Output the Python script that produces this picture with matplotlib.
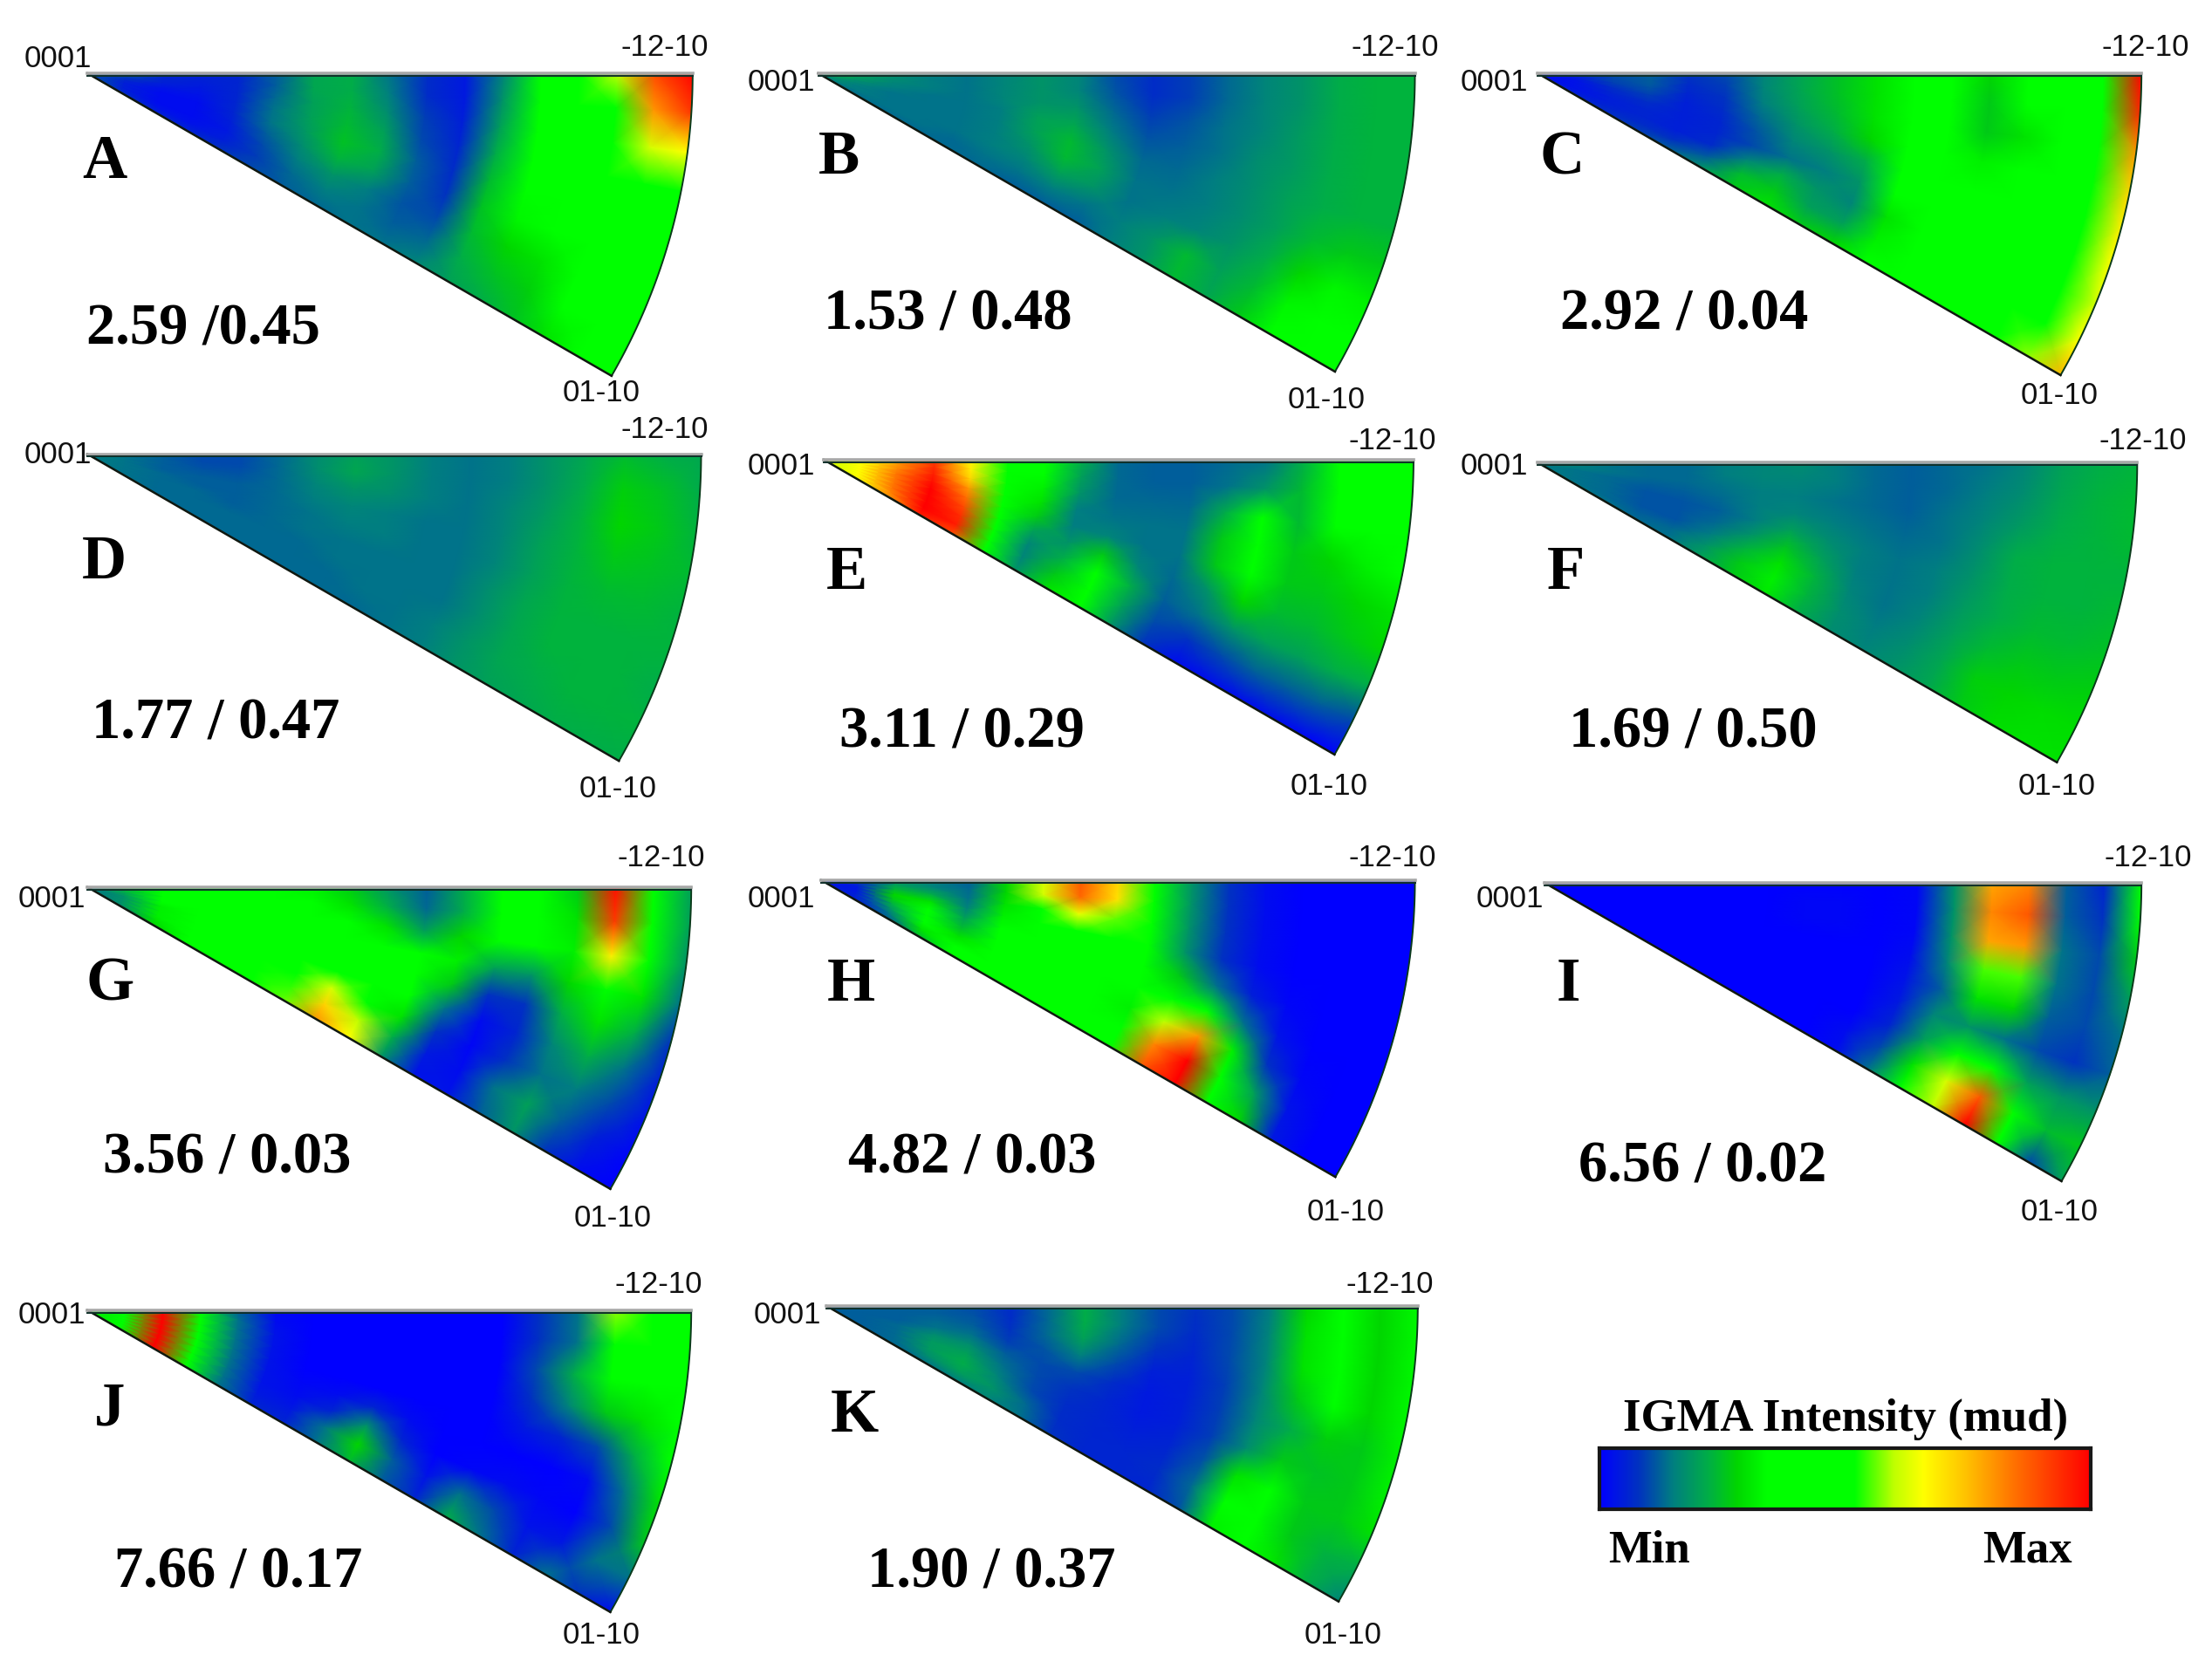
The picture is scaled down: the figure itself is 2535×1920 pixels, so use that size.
import numpy as np
import matplotlib
matplotlib.use('Agg')
import matplotlib.pyplot as plt
from matplotlib.colors import LinearSegmentedColormap

# Intensity read by eye, 0 = min, 100 = max
# rows go from 0 deg (top edge) to 30 deg (lower edge), columns from the 0001 pole out to the arc
RADII = np.linspace(0, 1, 17)
ANGLES_DEG = np.linspace(0, 30, 9)

panel_a = [
    [12, 10, 6, 5, 6, 12, 21, 22, 14, 7, 4, 16, 50, 42, 60, 90, 100],
    [12, 10, 6, 5, 6, 12, 21, 22, 15, 7, 4, 18, 48, 40, 50, 80, 92],
    [12, 8, 5, 4, 6, 13, 20, 23, 17, 9, 5, 20, 34, 40, 48, 62, 66],
    [12, 6, 3, 3, 6, 14, 20, 24, 20, 10, 6, 22, 34, 40, 44, 46, 50],
    [12, 5, 2, 2, 6, 14, 19, 25, 22, 12, 7, 24, 36, 40, 42, 42, 44],
    [12, 5, 2, 2, 5, 12, 17, 23, 20, 12, 8, 25, 33, 38, 44, 44, 44],
    [12, 5, 2, 2, 4, 10, 15, 18, 15, 11, 10, 24, 28, 30, 48, 50, 42],
    [12, 6, 3, 3, 5, 9, 13, 15, 14, 12, 13, 22, 25, 27, 36, 50, 42],
    [10, 8, 6, 6, 8, 10, 12, 13, 14, 14, 16, 20, 22, 25, 30, 38, 38],
]
panel_b = [
    [26, 20, 17, 15, 14, 16, 18, 16, 10, 7, 9, 13, 16, 18, 22, 23, 23],
    [26, 20, 17, 15, 14, 16, 18, 16, 11, 7, 9, 13, 16, 18, 22, 23, 23],
    [24, 19, 16, 15, 14, 16, 18, 18, 13, 9, 11, 14, 16, 19, 22, 23, 23],
    [22, 17, 15, 14, 14, 15, 20, 21, 15, 11, 12, 14, 17, 19, 22, 23, 23],
    [20, 16, 14, 14, 14, 15, 20, 24, 18, 13, 13, 15, 17, 20, 22, 23, 23],
    [19, 15, 14, 14, 14, 15, 18, 24, 20, 14, 14, 15, 17, 20, 24, 26, 26],
    [18, 15, 14, 14, 14, 15, 16, 20, 18, 14, 15, 16, 18, 22, 28, 33, 32],
    [16, 14, 14, 14, 13, 14, 14, 15, 14, 15, 18, 24, 20, 24, 33, 38, 36],
    [15, 14, 13, 13, 13, 13, 12, 12, 12, 15, 18, 24, 21, 26, 36, 40, 40],
]
panel_c = [
    [2, 5, 10, 12, 8, 10, 16, 21, 25, 30, 42, 40, 28, 38, 42, 46, 100],
    [2, 5, 10, 12, 7, 9, 16, 21, 25, 30, 42, 38, 26, 34, 42, 48, 95],
    [2, 4, 9, 11, 6, 8, 15, 20, 24, 30, 40, 38, 26, 30, 42, 50, 80],
    [2, 3, 7, 9, 5, 7, 13, 18, 22, 28, 40, 40, 32, 34, 42, 48, 72],
    [2, 3, 6, 7, 5, 6, 11, 16, 18, 22, 38, 42, 40, 38, 42, 46, 68],
    [2, 3, 5, 6, 5, 6, 10, 14, 15, 18, 34, 42, 42, 42, 42, 46, 66],
    [2, 3, 5, 6, 5, 7, 16, 22, 18, 16, 30, 42, 42, 42, 42, 48, 62],
    [3, 4, 6, 7, 8, 12, 24, 26, 20, 20, 32, 42, 42, 42, 42, 46, 66],
    [5, 6, 7, 9, 12, 18, 26, 30, 26, 28, 36, 40, 42, 42, 44, 58, 76],
]
panel_d = [
    [17, 14, 12, 10, 10, 13, 17, 20, 18, 15, 14, 15, 18, 21, 24, 22, 21],
    [17, 14, 12, 10, 10, 13, 17, 21, 18, 15, 14, 15, 18, 22, 27, 25, 22],
    [16, 14, 12, 11, 11, 13, 16, 18, 17, 15, 14, 16, 19, 23, 28, 26, 23],
    [16, 14, 12, 12, 12, 13, 15, 16, 15, 14, 14, 16, 20, 23, 26, 25, 24],
    [15, 14, 13, 12, 12, 13, 14, 15, 15, 14, 14, 16, 20, 23, 24, 24, 23],
    [15, 14, 13, 13, 12, 13, 14, 14, 14, 14, 14, 17, 21, 23, 23, 23, 23],
    [15, 14, 13, 13, 13, 13, 13, 14, 14, 14, 14, 17, 21, 23, 23, 23, 22],
    [15, 14, 13, 13, 13, 13, 13, 13, 14, 14, 15, 18, 21, 22, 23, 23, 23],
    [14, 14, 13, 13, 13, 13, 13, 13, 13, 14, 15, 18, 20, 21, 22, 22, 22],
]
panel_e = [
    [60, 66, 80, 92, 68, 42, 36, 22, 13, 12, 12, 13, 14, 22, 40, 38, 34],
    [60, 66, 80, 94, 68, 42, 34, 20, 13, 12, 12, 14, 18, 24, 40, 38, 35],
    [60, 66, 82, 96, 72, 46, 32, 18, 13, 13, 13, 22, 40, 24, 36, 38, 36],
    [60, 66, 84, 98, 80, 50, 30, 15, 14, 14, 14, 26, 42, 26, 28, 32, 34],
    [60, 66, 84, 100, 85, 50, 26, 15, 16, 14, 14, 26, 42, 26, 26, 28, 30],
    [60, 66, 84, 100, 90, 46, 20, 18, 26, 16, 13, 18, 28, 24, 24, 26, 28],
    [60, 66, 84, 100, 94, 44, 16, 22, 36, 22, 12, 14, 18, 20, 20, 22, 22],
    [60, 66, 82, 100, 96, 46, 16, 26, 40, 20, 10, 8, 10, 12, 12, 12, 10],
    [60, 66, 80, 96, 90, 50, 18, 30, 36, 18, 8, 2, 2, 2, 2, 1, 0],
]
panel_f = [
    [17, 15, 14, 13, 13, 15, 16, 17, 15, 13, 12, 13, 14, 16, 20, 22, 23],
    [17, 15, 14, 13, 13, 15, 16, 16, 15, 13, 12, 13, 15, 17, 21, 23, 24],
    [16, 15, 14, 13, 13, 14, 15, 15, 14, 13, 12, 14, 16, 19, 22, 23, 24],
    [16, 14, 13, 12, 12, 13, 15, 16, 15, 14, 13, 14, 17, 22, 23, 23, 23],
    [15, 14, 13, 11, 11, 12, 15, 20, 17, 15, 14, 15, 18, 22, 23, 23, 24],
    [15, 14, 13, 11, 11, 13, 18, 25, 20, 15, 14, 15, 19, 22, 24, 24, 25],
    [15, 14, 13, 11, 11, 15, 23, 30, 23, 16, 14, 16, 20, 24, 26, 26, 27],
    [15, 14, 13, 12, 13, 18, 26, 32, 23, 17, 15, 17, 21, 27, 28, 29, 29],
    [15, 15, 14, 13, 14, 20, 26, 31, 22, 17, 16, 18, 21, 26, 29, 30, 30],
]
panel_g = [
    [15, 26, 38, 40, 40, 38, 32, 26, 18, 12, 22, 40, 38, 26, 98, 45, 20],
    [15, 24, 38, 40, 40, 40, 36, 30, 22, 13, 22, 40, 40, 30, 92, 42, 20],
    [15, 22, 36, 40, 40, 42, 42, 38, 30, 20, 28, 38, 36, 32, 68, 38, 18],
    [15, 20, 34, 38, 40, 42, 42, 42, 38, 36, 32, 20, 18, 28, 42, 30, 14],
    [14, 18, 32, 38, 40, 42, 42, 42, 42, 40, 26, 8, 8, 22, 30, 22, 8],
    [14, 18, 32, 38, 40, 42, 44, 44, 42, 38, 14, 2, 6, 16, 22, 14, 5],
    [14, 18, 32, 38, 40, 42, 50, 62, 50, 30, 8, 1, 8, 14, 15, 10, 3],
    [14, 18, 30, 36, 40, 42, 54, 72, 60, 22, 4, 2, 14, 20, 12, 5, 1],
    [14, 16, 28, 34, 38, 40, 56, 80, 66, 18, 3, 3, 12, 18, 8, 2, 0],
]
panel_h = [
    [2, 8, 20, 15, 12, 28, 62, 88, 72, 34, 18, 8, 2, 0, 0, 0, 0],
    [2, 8, 20, 16, 13, 28, 62, 86, 70, 34, 18, 8, 2, 0, 0, 0, 0],
    [2, 6, 24, 22, 14, 30, 52, 64, 56, 36, 18, 8, 2, 0, 0, 0, 0],
    [3, 4, 28, 30, 16, 32, 40, 42, 42, 38, 18, 8, 2, 0, 0, 0, 0],
    [3, 4, 26, 36, 20, 34, 40, 40, 40, 38, 26, 14, 5, 1, 0, 0, 0],
    [3, 4, 22, 38, 24, 38, 42, 42, 40, 34, 46, 50, 14, 3, 0, 0, 0],
    [3, 5, 18, 36, 30, 40, 42, 42, 38, 32, 60, 80, 32, 8, 1, 0, 0],
    [3, 5, 14, 30, 34, 42, 42, 40, 36, 38, 82, 100, 40, 20, 3, 0, 0],
    [3, 5, 12, 24, 36, 42, 42, 38, 34, 42, 88, 100, 36, 28, 4, 0, 0],
]
panel_i = [
    [0, 0, 0, 0, 0, 0, 0, 0, 0, 0, 1, 18, 78, 82, 12, 6, 38],
    [0, 0, 0, 0, 0, 0, 0, 1, 1, 0, 1, 18, 82, 88, 12, 8, 36],
    [0, 0, 0, 0, 0, 0, 0, 1, 1, 0, 1, 18, 78, 80, 14, 10, 26],
    [0, 0, 0, 0, 0, 0, 0, 0, 0, 0, 2, 16, 55, 55, 14, 10, 20],
    [0, 0, 0, 0, 0, 0, 0, 0, 0, 0, 3, 12, 30, 28, 12, 10, 14],
    [0, 0, 0, 0, 0, 0, 0, 0, 0, 0, 4, 16, 18, 14, 10, 8, 12],
    [0, 0, 0, 0, 0, 0, 0, 0, 0, 0, 6, 20, 40, 50, 20, 18, 18],
    [0, 0, 0, 0, 0, 0, 0, 0, 0, 2, 10, 30, 62, 88, 35, 24, 26],
    [0, 0, 0, 0, 0, 0, 0, 0, 0, 2, 14, 38, 60, 100, 40, 10, 20],
]
panel_j = [
    [30, 50, 100, 38, 12, 1, 0, 0, 0, 0, 0, 0, 8, 14, 58, 40, 38],
    [30, 50, 100, 40, 14, 2, 0, 0, 0, 0, 0, 0, 8, 14, 48, 40, 38],
    [30, 50, 100, 40, 14, 3, 0, 0, 0, 0, 0, 0, 10, 22, 40, 40, 40],
    [30, 50, 100, 40, 14, 3, 0, 0, 0, 0, 0, 0, 8, 16, 26, 30, 40],
    [30, 50, 100, 40, 14, 3, 0, 0, 0, 0, 0, 0, 4, 6, 10, 22, 36],
    [30, 50, 100, 40, 14, 3, 1, 2, 6, 2, 0, 0, 0, 0, 2, 14, 30],
    [30, 50, 100, 42, 14, 3, 2, 6, 18, 6, 0, 1, 2, 1, 0, 10, 26],
    [30, 50, 100, 42, 14, 4, 4, 14, 28, 12, 3, 14, 10, 3, 4, 14, 14],
    [30, 50, 100, 42, 14, 6, 6, 14, 24, 12, 6, 22, 14, 6, 14, 8, 2],
]
panel_k = [
    [12, 12, 12, 12, 10, 7, 13, 22, 15, 10, 8, 10, 15, 28, 40, 28, 33],
    [12, 12, 12, 12, 11, 7, 13, 22, 15, 10, 7, 10, 16, 30, 42, 28, 33],
    [12, 12, 12, 13, 12, 8, 13, 20, 13, 8, 6, 10, 16, 30, 40, 28, 33],
    [12, 12, 12, 14, 14, 9, 11, 15, 10, 5, 5, 9, 16, 26, 36, 28, 33],
    [12, 12, 13, 17, 17, 12, 10, 10, 7, 4, 5, 9, 16, 22, 27, 26, 32],
    [12, 12, 13, 19, 20, 14, 10, 8, 6, 4, 5, 9, 17, 26, 25, 26, 32],
    [12, 12, 13, 19, 22, 16, 10, 7, 6, 5, 6, 11, 30, 40, 26, 26, 30],
    [12, 12, 13, 17, 20, 18, 13, 7, 6, 6, 7, 13, 34, 40, 26, 23, 22],
    [12, 12, 13, 14, 15, 16, 14, 8, 6, 6, 6, 11, 32, 42, 30, 22, 16],
]

panel_grids = [panel_a, panel_b, panel_c, panel_d, panel_e, panel_f,
               panel_g, panel_h, panel_i, panel_j, panel_k]
panel_letters = ['A', 'B', 'C', 'D', 'E', 'F', 'G', 'H', 'I', 'J', 'K']
panel_values = ['2.59 /0.45', '1.53 / 0.48', '2.92 / 0.04', '1.77 / 0.47', '3.11 / 0.29',
                '1.69 / 0.50', '3.56 / 0.03', '4.82 / 0.03', '6.56 / 0.02', '7.66 / 0.17',
                '1.90 / 0.37']

# Layout, all in pixels of the 1568 wide view
SCALE = 2535 / 1568
apex_xy = [(62, 52), (580, 52), (1090, 52), (62, 322), (584, 326), (1090, 328),
           (62, 629), (582, 624), (1095, 626), (62, 929), (586, 926)]
radius_px = [429, 423, 428, 435, 418, 425, 428, 421, 423, 428, 419]
pole_xy = [(41, 39), (554, 56), (1059, 56), (41, 320), (554, 328), (1059, 328),
           (37, 635), (554, 635), (1070, 635), (37, 930), (558, 930)]
top_xy = [(471, 31), (989, 31), (1521, 31), (471, 302), (987, 310), (1519, 310),
          (469, 606), (987, 606), (1523, 606), (467, 908), (985, 908)]
low_xy = [(426, 276), (940, 281), (1460, 278), (438, 557), (942, 555), (1458, 555),
          (434, 861), (954, 857), (1460, 857), (426, 1157), (952, 1157)]
letter_xy = [(74, 113), (595, 110), (1107, 110), (74, 397), (600, 404), (1110, 404),
             (78, 696), (603, 696), (1112, 696), (78, 997), (606, 1002)]
value_xy = [(61, 231), (584, 221), (1106, 221), (65, 511), (595, 517), (1112, 517),
            (73, 819), (601, 819), (1119, 825), (81, 1113), (615, 1113)]

stops = [(0.0, (0, 0, 1)), (0.08, (0, 0.2, 0.75)), (0.15, (0, 0.5, 0.5)), (0.22, (0, 0.68, 0.28)),
         (0.28, (0, 0.84, 0)), (0.34, (0, 1, 0)), (0.52, (0, 1, 0)), (0.60, (0.75, 1, 0)),
         (0.66, (1, 1, 0)), (0.75, (1, 0.75, 0)), (0.85, (1, 0.43, 0)), (1.0, (1, 0, 0))]
igma_cmap = LinearSegmentedColormap.from_list('igma', stops, N=512)

W, H = 2535, 1920
SANS = 'Liberation Sans'
SERIF = 'Liberation Serif'
TEXT_DROP = 2.5  # text sits a little lower than its centre anchor

fig = plt.figure(figsize=(W / 100, H / 100), dpi=100, facecolor='white')


def put_text(xy, s, **kwargs):
    # xy is given in the 1568 wide view, y going down
    fig.text(xy[0] / 1568, 1 - (xy[1] + TEXT_DROP) * SCALE / H, s, **kwargs)


angles = np.deg2rad(ANGLES_DEG)
r_mesh, th_mesh = np.meshgrid(RADII, angles)
x_mesh = r_mesh * np.cos(th_mesh)
y_mesh = -r_mesh * np.sin(th_mesh)

for i, grid in enumerate(panel_grids):
    x0 = apex_xy[i][0] * SCALE
    y0 = apex_xy[i][1] * SCALE
    rad = radius_px[i] * SCALE
    ax = fig.add_axes([x0 / W, 1 - (y0 + 0.52 * rad) / H, 1.02 * rad / W, 0.52 * rad / H])
    ax.set_xlim(0, 1.02)
    ax.set_ylim(-0.52, 0)
    ax.axis('off')
    ax.pcolormesh(x_mesh, y_mesh, np.array(grid), cmap=igma_cmap, vmin=0, vmax=100,
                  shading='gouraud', rasterized=True)
    # sector outline
    arc = np.deg2rad(np.linspace(0, 30, 60))
    ax.plot(np.cos(arc), -np.sin(arc), color='#0a3a1a', lw=1.4, clip_on=False)
    ax.plot([0, np.cos(arc[-1])], [0, -np.sin(arc[-1])], color='#101810', lw=1.8, clip_on=False)
    ax.plot([0, 1], [0, 0], color='#a8a8a8', lw=2.6, clip_on=False)
    ax.plot([0, 1], [-0.004, -0.004], color='#10302a', lw=1.4, clip_on=False)

    put_text(pole_xy[i], '0001', family=SANS, fontsize=25, ha='center', va='center', color='#111111')
    put_text(top_xy[i], '-12-10', family=SANS, fontsize=25, ha='center', va='center', color='#111111')
    put_text(low_xy[i], '01-10', family=SANS, fontsize=25, ha='center', va='center', color='#111111')
    put_text(letter_xy[i], panel_letters[i], family=SERIF, fontsize=51, fontweight='bold',
             ha='center', va='center', color='black')
    put_text(value_xy[i], panel_values[i], family=SERIF, fontsize=48, fontweight='bold',
             ha='left', va='center', color='black')

# Colour key
bar_ax = fig.add_axes([1134 * SCALE / W, 1 - 1070 * SCALE / H, 348 * SCALE / W, 43 * SCALE / H])
bar_ax.imshow(np.linspace(0, 100, 512).reshape(1, -1), cmap=igma_cmap, vmin=0, vmax=100,
              aspect='auto', extent=[0, 100, 0, 1])
bar_ax.set_xticks([])
bar_ax.set_yticks([])
for spine in bar_ax.spines.values():
    spine.set_linewidth(3)
    spine.set_color('#181818')

put_text((1308, 1004), 'IGMA Intensity (mud)', family=SERIF, fontsize=38, fontweight='bold',
         ha='center', va='center', color='black')
put_text((1169, 1097), 'Min', family=SERIF, fontsize=38, fontweight='bold', ha='center', va='center')
put_text((1437, 1097), 'Max', family=SERIF, fontsize=38, fontweight='bold', ha='center', va='center')

fig.savefig('out.png', dpi=100, facecolor='white')
